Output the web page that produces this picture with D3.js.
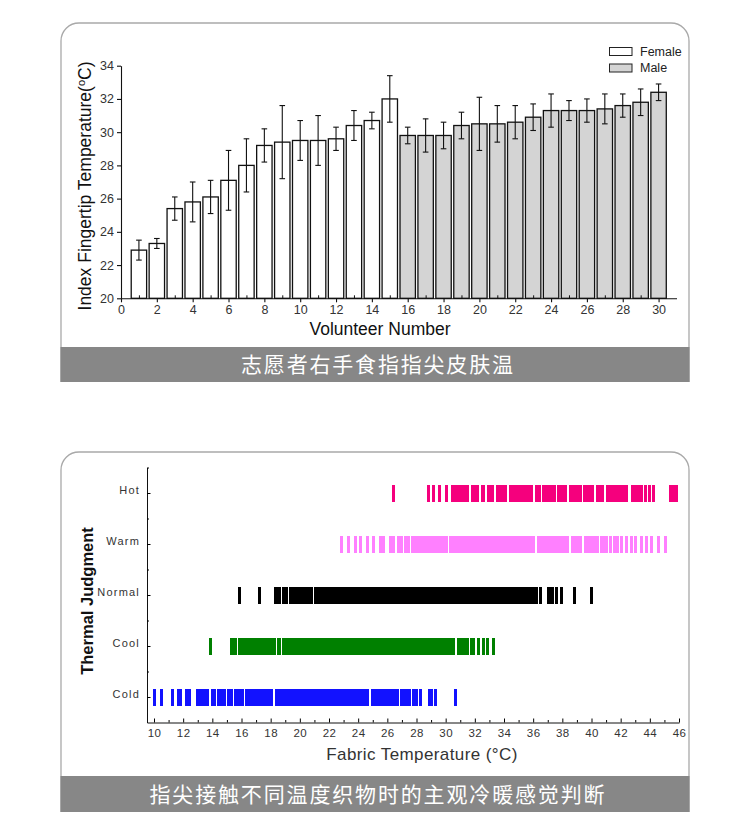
<!DOCTYPE html>
<html><head><meta charset="utf-8">
<script src="https://cdn.jsdelivr.net/npm/d3@7"></script>
<style>
body{margin:0;background:#fff;}
svg{display:block;}
text{font-family:"Liberation Sans",Arial,sans-serif;}
.cap{font-family:"Noto Sans CJK SC",sans-serif;}
</style>
</head><body>
<svg id="c" width="750" height="837"></svg>
<script>
// ---------- Chart 1 data ----------
const femaleIds = [1,2,3,4,5,6,7,8,9,10,11,12,13,14,15];
const femaleMeans = [22.9,23.3,25.4,25.8,26.1,27.1,28.0,29.2,29.4,29.5,29.5,29.6,30.4,30.7,32.0];
const femaleErrs  = [0.6,0.3,0.7,1.2,1.0,1.8,1.6,1.0,2.2,1.2,1.5,0.7,0.9,0.5,1.4];
const maleIds = [16,17,18,19,20,21,22,23,24,25,26,27,28,29,30];
const maleMeans = [29.8,29.8,29.8,30.4,30.5,30.5,30.6,30.9,31.3,31.3,31.3,31.4,31.6,31.8,32.4];
const maleErrs  = [0.5,1.0,0.8,0.8,1.6,1.1,1.0,0.8,1.0,0.6,0.7,0.9,0.7,0.8,0.5];
const chart1XTicks = [0,2,4,6,8,10,12,14,16,18,20,22,24,26,28,30];
const chart1XMinor = [1,3,5,7,9,11,13,15,17,19,21,23,25,27,29];
const chart1YTicks = [20,22,24,26,28,30,32,34];
const legendLabels = ["Female","Male"];

// ---------- Chart 2 data ----------
const judgments = ["Cold","Cool","Normal","Warm","Hot"];
const coldTemps = [10.05,10.5,11.25,11.7,11.85,12.25,12.4,
13.0,13.2,13.4,13.57,13.69,13.99,14.15,14.45,14.63,14.83,15.13,15.29,15.59,15.77,15.97,16.05,16.35,16.53,16.73,16.93,17.13,17.33,17.53,17.73,17.93,18.08,18.38,18.56,18.76,18.96,19.16,19.36,19.56,19.76,19.96,20.16,20.36,20.56,20.76,20.96,21.16,21.36,21.56,21.76,21.96,22.16,22.36,22.56,22.76,22.96,23.16,23.36,23.56,23.76,23.96,24.16,24.36,24.54,24.65,24.95,25.13,25.33,25.53,25.73,25.93,26.13,26.33,26.53,26.7,27.0,27.18,27.38,27.5,
27.8,28.0,28.25,28.9,29.05,29.3,30.7];
const coolTemps = [13.9,15.3,15.42,15.62,15.83,16.0,16.2,16.35,16.47,16.6,16.75,
16.9,17.1,17.3,17.5,17.7,17.9,18.1,18.27,18.57,18.61,18.91,19.1,19.3,19.5,19.7,19.9,20.1,20.3,20.5,20.7,20.9,21.1,21.3,21.5,21.7,21.9,22.1,22.3,22.5,22.7,22.9,23.1,23.3,23.5,23.7,23.9,24.1,24.3,24.5,24.7,24.9,25.1,25.3,25.5,25.7,25.9,26.1,26.3,26.5,26.7,26.9,27.1,27.3,27.5,27.7,27.9,28.1,28.3,28.5,28.7,28.9,29.1,29.3,29.5,29.7,29.9,30.1,30.3,30.45,30.55,
30.85,31.03,31.2,31.33,31.49,31.79,31.9,32.24,32.58,32.86,33.27];
const normalTemps = [15.85,17.25,18.3,18.45,18.6,18.87,19.1,19.33,19.45,19.55,
19.7,19.9,20.1,20.3,20.5,20.65,20.78,21.08,21.3,21.5,21.7,21.9,22.1,22.3,22.5,22.7,22.9,23.1,23.3,23.5,23.7,23.9,24.1,24.3,24.5,24.7,24.9,25.1,25.3,25.5,25.7,25.9,26.1,26.3,26.5,26.7,26.9,27.1,27.3,27.5,27.7,27.9,28.1,28.3,28.5,28.7,28.9,29.1,29.3,29.5,29.7,29.9,30.1,30.3,30.5,30.7,30.9,31.1,31.3,31.5,31.7,31.9,32.1,32.3,32.5,32.7,32.9,33.1,33.3,33.5,33.7,33.9,34.1,34.3,34.5,34.7,34.9,35.1,35.3,35.5,35.7,35.9,36.1,36.2,
36.5,37.05,37.2,37.35,37.62,37.96,38.83,39.97];
const warmTemps = [22.87,23.33,23.79,24.17,24.63,25.04,25.55,25.77,26.19,26.41,26.76,26.99,27.22,27.44,
27.7,27.9,28.1,28.3,28.5,28.7,28.9,29.1,29.3,29.5,29.7,29.9,30.05,30.35,30.5,30.7,30.9,31.1,31.3,31.5,31.7,31.9,32.1,32.3,32.5,32.7,32.9,33.1,33.3,33.5,33.7,33.9,34.1,34.3,34.5,34.7,34.9,35.1,35.3,35.5,35.7,35.9,36.05,36.35,36.5,36.7,36.9,37.1,37.3,37.5,37.7,37.9,38.1,38.25,38.38,38.68,38.86,39.06,39.25,
39.56,39.79,40.02,40.2,40.43,40.66,40.82,41.05,41.28,41.57,41.8,42.08,42.42,42.76,42.99,43.45,43.79,44.14,44.59,45.05];
const hotTemps = [26.41,28.82,29.16,29.57,30.03,30.5,30.7,30.89,
31.06,31.26,31.41,31.52,31.82,31.97,32.1,32.21,32.51,32.62,32.92,33.08,33.24,33.54,33.72,33.92,34.13,34.43,34.61,34.81,35.01,35.21,35.41,35.61,35.81,35.91,36.21,36.33,36.44,36.74,36.92,37.12,37.32,37.45,37.75,37.93,38.13,38.25,38.55,38.73,38.93,39.13,39.25,39.55,39.73,39.93,40.1,40.4,40.58,40.78,41.08,41.26,41.46,41.66,41.86,42.06,42.26,42.42,
42.8,42.99,43.22,43.45,43.68,43.95,44.25,45.39,45.62,45.85];
const judgmentTemps = [coldTemps, coolTemps, normalTemps, warmTemps, hotTemps];
const judgmentColors = ["#1212ff","#008000","#000000","#ff80ff","#f5007d"];
const chart2XTicks = [10,12,14,16,18,20,22,24,26,28,30,32,34,36,38,40,42,44,46];
const chart2XMinor = [11,13,15,17,19,21,23,25,27,29,31,33,35,37,39,41,43,45];
const chart2YMinor = [1.5,2.5,3.5,4.5,5.5];

const captions = ["志愿者右手食指指尖皮肤温","指尖接触不同温度织物时的主观冷暖感觉判断"];

// ---------- drawing ----------
const svg = d3.select("#c");

function panel(y0, y1, capY, caption, capBase, capLen) {
  const r = 18;
  svg.append("path")
    .attr("d", `M61,${y1} V${y0 + r} A${r},${r} 0 0 1 ${61 + r},${y0} H${689 - r} A${r},${r} 0 0 1 689,${y0 + r} V${y1}`)
    .attr("fill", "#fff").attr("stroke", "#a9a9a9").attr("stroke-width", 1.3);
  svg.append("rect").attr("x", 60.5).attr("y", capY).attr("width", 629).attr("height", y1 - capY)
    .attr("fill", "#878787");
  svg.append("text").attr("class", "cap")
    .attr("x", 377).attr("y", capBase).attr("text-anchor", "middle")
    .attr("font-size", 21).attr("fill", "#fff")
    .attr("textLength", capLen).attr("lengthAdjust", "spacing")
    .text(caption);
}

panel(23, 382, 347, captions[0], 372, 272);
panel(452, 812, 776, captions[1], 802, 455);

// ===== Chart 1 =====
{
  const x = d3.scaleLinear().domain([0, 31]).range([121, 676.5]);
  const y = d3.scaleLinear().domain([20, 34]).range([298.3, 65.7]);
  const bw = 15.4;
  const g = svg.append("g");

  const groups = [
    {ids: femaleIds, means: femaleMeans, errs: femaleErrs, fill: "#ffffff"},
    {ids: maleIds, means: maleMeans, errs: maleErrs, fill: "#d4d4d4"}
  ];
  groups.forEach(gr => {
    const data = gr.ids.map((id, i) => ({id, m: gr.means[i], e: gr.errs[i]}));
    g.selectAll(null).data(data).enter().append("rect")
      .attr("x", d => x(d.id) - bw / 2).attr("width", bw)
      .attr("y", d => y(d.m)).attr("height", d => y(20) - y(d.m))
      .attr("fill", gr.fill).attr("stroke", "#111").attr("stroke-width", 1.3);
    const eb = g.selectAll(null).data(data).enter().append("g").attr("stroke", "#111").attr("stroke-width", 1.1);
    eb.append("line").attr("x1", d => x(d.id)).attr("x2", d => x(d.id))
      .attr("y1", d => y(d.m + d.e)).attr("y2", d => y(d.m - d.e));
    eb.append("line").attr("x1", d => x(d.id) - 2.8).attr("x2", d => x(d.id) + 2.8)
      .attr("y1", d => y(d.m + d.e)).attr("y2", d => y(d.m + d.e));
    eb.append("line").attr("x1", d => x(d.id) - 2.8).attr("x2", d => x(d.id) + 2.8)
      .attr("y1", d => y(d.m - d.e)).attr("y2", d => y(d.m - d.e));
  });

  const xa = svg.append("g").attr("transform", "translate(0,298.3)")
    .call(d3.axisBottom(x).tickValues(chart1XTicks).tickSize(4).tickPadding(3).tickSizeOuter(0));
  svg.append("g").attr("transform", "translate(0,298.3)")
    .call(d3.axisBottom(x).tickValues(chart1XMinor).tickSize(-3).tickFormat("").tickSizeOuter(0))
    .select(".domain").remove();
  const ya = svg.append("g").attr("transform", "translate(121,0)")
    .call(d3.axisLeft(y).tickValues(chart1YTicks).tickSize(4).tickPadding(3).tickSizeOuter(0));
  [xa, ya].forEach(a => {
    a.selectAll("text").attr("font-size", 12.5).attr("fill", "#333")
      .attr("font-family", "Liberation Sans, Arial, sans-serif");
    a.selectAll("line,path").attr("stroke", "#111").attr("stroke-width", 1.1);
  });
  svg.selectAll("g.tick line").attr("stroke", "#111");

  svg.append("text").attr("x", 380).attr("y", 335).attr("text-anchor", "middle")
    .attr("font-size", 17.5).attr("fill", "#111").text("Volunteer Number");
  const yt = svg.append("text").attr("transform", "translate(91,186) rotate(-90)")
    .attr("text-anchor", "middle").attr("font-size", 17.5).attr("fill", "#111");
  yt.append("tspan").text("Index Fingertip Temperature(");
  yt.append("tspan").attr("font-size", 11).attr("dy", -6).text("o");
  yt.append("tspan").attr("dy", 6).text("C)");

  const lg = svg.append("g");
  legendLabels.forEach((lab, i) => {
    lg.append("rect").attr("x", 609.5).attr("y", 47.5 + i * 16.5).attr("width", 22.5).attr("height", 8)
      .attr("fill", i === 0 ? "#ffffff" : "#d4d4d4").attr("stroke", "#222").attr("stroke-width", 1);
    lg.append("text").attr("x", 640).attr("y", 55.5 + i * 16.5).attr("font-size", 12.5).attr("fill", "#222").text(lab);
  });
}

// ===== Chart 2 =====
{
  const x = d3.scaleLinear().domain([9.52, 46]).range([147, 679]);
  const y = d3.scaleLinear().domain([0.5, 5.5]).range([722.5, 467.5]);
  const g = svg.append("g").attr("shape-rendering", "crispEdges");
  judgments.forEach((j, i) => {
    const row = i + 1;
    g.selectAll(null).data(judgmentTemps[i]).enter().append("line")
      .attr("x1", d => x(d)).attr("x2", d => x(d))
      .attr("y1", y(row) - 8.5).attr("y2", y(row) + 9)
      .attr("stroke", judgmentColors[i]).attr("stroke-width", 3);
  });

  const xa = svg.append("g").attr("transform", "translate(0,722.5)")
    .call(d3.axisBottom(x).tickValues(chart2XTicks).tickSize(-4).tickPadding(6).tickSizeOuter(0));
  svg.append("g").attr("transform", "translate(0,722.5)")
    .call(d3.axisBottom(x).tickValues(chart2XMinor).tickSize(-2.5).tickFormat("").tickSizeOuter(0))
    .select(".domain").remove();
  const ya = svg.append("g").attr("transform", "translate(147,0)")
    .call(d3.axisLeft(y).tickValues([1, 2, 3, 4, 5]).tickFormat(d => judgments[d - 1])
      .tickSize(-3.5).tickPadding(7).tickSizeOuter(0));
  svg.append("g").attr("transform", "translate(147,0)")
    .call(d3.axisLeft(y).tickValues(chart2YMinor).tickSize(-2).tickFormat("").tickSizeOuter(0))
    .select(".domain").remove();
  xa.selectAll("text").attr("font-size", 11.5).attr("fill", "#333").attr("letter-spacing", 0.4)
    .attr("font-family", "Liberation Sans, Arial, sans-serif");
  ya.selectAll("text").attr("font-size", 11).attr("fill", "#333").attr("letter-spacing", 1.2)
    .attr("dy", "0").attr("font-family", "Liberation Sans, Arial, sans-serif");
  svg.selectAll("path.domain").attr("stroke", "#111");

  svg.append("text").attr("x", 422).attr("y", 760).attr("text-anchor", "middle")
    .attr("font-size", 17).attr("fill", "#333").attr("letter-spacing", 0.4)
    .text("Fabric Temperature (°C)");
  svg.append("text").attr("transform", "translate(93,601) rotate(-90)")
    .attr("text-anchor", "middle").attr("font-size", 16.5).attr("font-weight", "bold")
    .attr("fill", "#111").text("Thermal Judgment");
}
</script>
</body></html>
